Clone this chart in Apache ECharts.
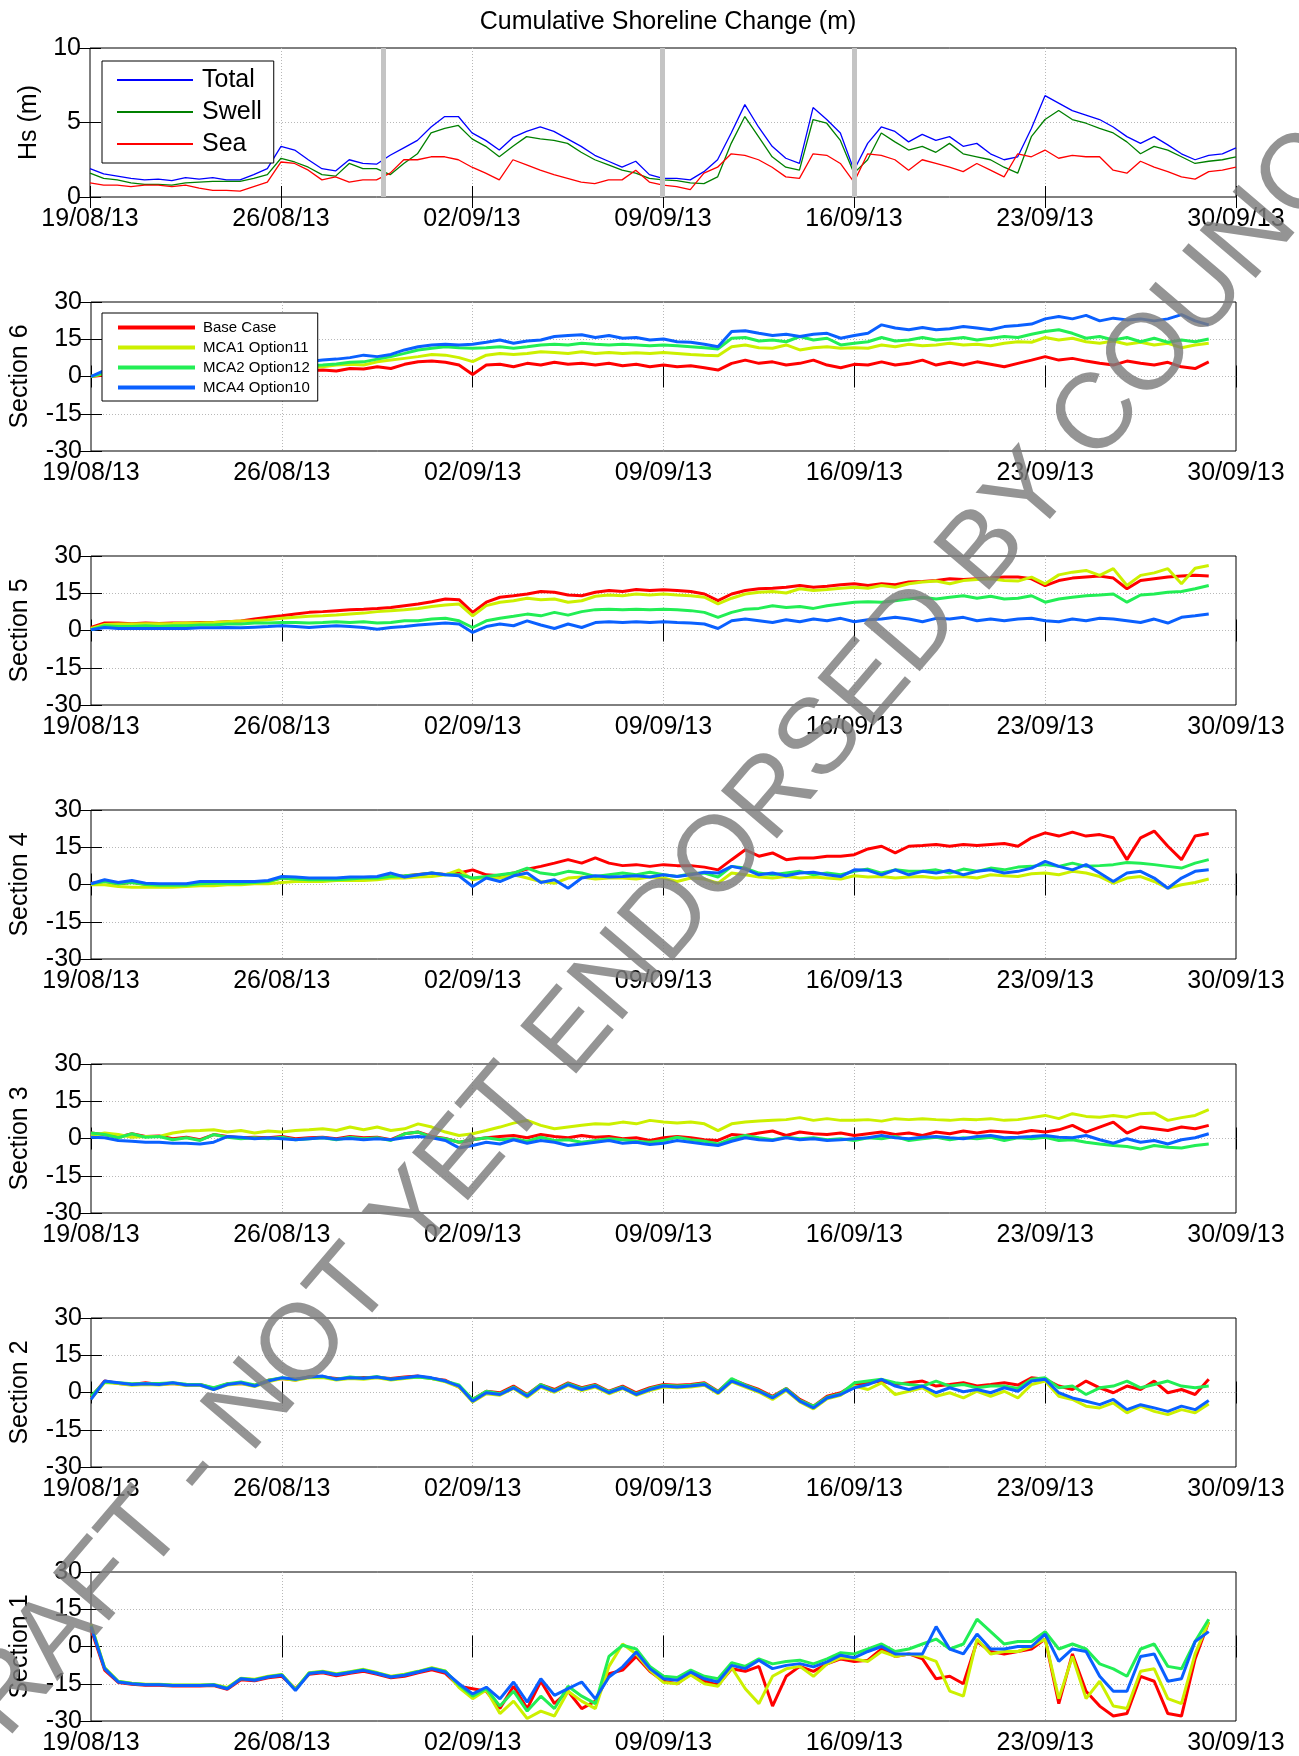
<!DOCTYPE html>
<html>
<head>
<meta charset="utf-8">
<script src="https://cdn.jsdelivr.net/npm/echarts@6/dist/echarts.min.js"></script>
<style>
  html, body { margin: 0; padding: 0; background: #fff; }
  #main { width: 1299px; height: 1756px; }
</style>
</head>
<body>
<div id="main"></div>
<script>
// samples every 12 h starting 19/08/2013 00:00 (x = days since start)
var stepDays = 0.5;
var stormDays = [10.75, 20.97, 28.0];

// wave height (m)
var hsTotal = [1.9,1.55,1.4,1.25,1.15,1.2,1.1,1.3,1.2,1.3,1.15,
  1.15,1.5,1.9,3.4,3.15,2.5,1.9,1.75,2.5,2.25,
  2.2,2.8,3.3,3.8,4.7,5.4,5.4,4.3,3.8,3.15,
  4.0,4.4,4.7,4.4,3.9,3.4,2.8,2.4,2.0,2.4,
  1.5,1.25,1.25,1.15,1.7,2.5,4.3,6.2,4.7,3.4,
  2.6,2.26,6.0,5.2,4.3,1.8,3.6,4.7,4.4,3.7,
  4.2,3.8,4.05,3.4,3.6,2.9,2.5,2.7,4.6,6.8,
  6.3,5.8,5.5,5.2,4.7,4.05,3.6,4.05,3.5,2.9,
  2.5,2.8,2.9,3.3];
var hsSwell = [1.6,1.25,1.15,0.95,0.85,0.85,0.8,0.95,1.0,1.05,1.05,
  1.05,1.25,1.5,2.6,2.35,2.0,1.5,1.4,2.25,1.9,
  1.9,1.5,2.25,2.9,4.3,4.6,4.8,3.9,3.4,2.7,
  3.4,4.05,3.9,3.8,3.6,3.0,2.5,2.15,1.8,1.6,
  1.25,1.15,1.1,0.95,0.9,1.35,3.6,5.4,4.05,2.7,
  2.0,1.8,5.2,4.95,3.8,1.6,2.5,4.3,3.7,3.15,
  3.4,3.0,3.6,2.9,2.7,2.5,2.0,1.6,4.05,5.2,
  5.8,5.2,4.95,4.6,4.3,3.7,2.9,3.4,3.15,2.7,
  2.25,2.4,2.5,2.7];
var hsSea = [0.95,0.8,0.8,0.7,0.8,0.8,0.7,0.8,0.6,0.45,0.45,
  0.4,0.7,1.0,2.35,2.25,1.8,1.15,1.35,1.0,1.15,
  1.15,1.6,2.5,2.5,2.7,2.7,2.5,2.0,1.6,1.15,
  2.5,2.15,1.8,1.5,1.25,1.0,0.9,1.15,1.15,1.8,
  1.0,0.8,0.7,0.5,1.6,2.0,2.9,2.8,2.5,2.0,
  1.35,1.25,2.9,2.8,2.25,1.0,2.9,2.8,2.5,1.8,
  2.5,2.25,2.0,1.7,2.25,1.8,1.35,2.9,2.7,3.15,
  2.6,2.8,2.7,2.7,1.8,1.6,2.4,2.0,1.7,1.35,
  1.2,1.7,1.8,2.0];

// cumulative shoreline change (m), Section 6
var s6Base = [0,0.6,1.0,1.2,0.9,1.3,1.5,1.3,1.7,1.9,1.8,
  2.1,1.9,2.3,2.2,2.5,2.4,2.6,2.2,3.2,3.0,
  3.9,3.2,4.9,5.9,6.2,5.7,4.6,0.8,4.6,4.9,
  3.9,5.3,4.6,5.7,4.9,5.3,4.6,5.3,4.3,4.9,
  3.9,4.6,3.9,4.3,3.5,2.6,5.3,6.6,5.3,5.9,
  4.6,5.3,6.6,4.6,3.5,4.9,4.6,5.9,4.6,5.3,
  6.6,4.6,5.7,4.6,5.9,4.9,3.9,5.3,6.6,8.0,
  6.6,7.3,6.2,5.3,4.6,6.2,5.3,4.6,5.7,3.9,
  3.2,5.9];
var s6Mca1 = [0,1.2,1.6,1.8,1.6,2.0,2.2,2.0,2.4,2.5,2.7,
  2.9,3.0,3.2,3.4,3.6,3.7,3.9,4.6,4.9,4.6,
  5.9,6.6,7.3,8.0,8.9,8.6,7.6,6.0,8.6,9.3,
  8.9,9.3,10.0,9.7,9.3,10.0,9.3,9.7,9.3,9.6,
  9.3,9.7,9.3,8.9,8.6,8.4,12.0,12.7,11.6,11.4,
  12.7,10.7,11.6,12.0,11.4,11.6,11.4,12.7,12.0,13.0,
  12.4,12.7,13.4,12.7,13.0,12.4,13.4,14.0,13.8,15.7,
  14.7,15.4,14.0,13.4,14.3,13.0,13.8,12.7,13.4,11.6,
  12.7,13.4];
var s6Mca2 = [0,1.5,2.0,2.2,2.0,2.4,2.6,2.5,2.8,3.0,3.2,
  3.4,3.6,3.8,4.0,4.3,4.4,4.6,5.0,5.7,5.9,
  7.0,8.0,9.3,10.7,11.4,12.0,11.6,11.4,11.6,12.0,
  11.4,12.0,12.7,13.0,12.7,13.4,13.0,12.7,13.0,12.7,
  12.4,12.7,12.4,12.0,11.6,11.1,15.4,15.7,14.3,14.7,
  14.0,16.1,14.7,15.4,12.7,13.4,14.0,15.7,14.3,14.7,
  15.7,14.7,15.1,15.7,14.7,15.4,16.1,15.7,17.0,18.1,
  18.8,17.4,15.4,16.1,14.7,15.7,14.0,15.4,13.8,14.7,
  14.0,15.1];
var s6Mca4 = [0,2.5,3.0,3.2,3.0,3.4,3.6,3.5,3.8,4.0,4.2,
  4.5,4.8,5.0,5.3,5.8,6.0,6.6,7.0,7.6,8.6,
  8.0,8.9,10.7,12.0,12.7,13.0,12.7,13.0,13.8,14.7,
  13.4,14.3,14.7,16.1,16.5,16.8,15.7,16.5,15.4,15.7,
  14.7,15.1,14.0,13.8,13.0,12.0,18.1,18.4,17.4,16.5,
  17.0,16.1,17.0,17.4,15.4,16.5,17.4,20.8,19.5,18.8,
  19.7,18.8,19.2,20.1,19.5,18.8,20.1,20.5,21.1,23.2,
  24.2,23.2,24.6,22.4,23.5,22.8,23.2,22.4,23.2,24.9,
  22.4,20.8];

// Section 5
var s5Base = [1.2,3.0,3.0,2.7,3.0,2.8,3.0,3.0,3.2,3.2,3.5,
  3.8,4.6,5.3,5.9,6.6,7.3,7.6,8.0,8.4,8.6,
  8.9,9.3,10.0,10.7,11.6,12.7,12.4,7.3,11.4,13.4,
  14.0,14.7,15.7,15.4,14.3,14.0,15.4,16.1,15.7,16.5,
  16.1,16.4,16.1,15.7,14.7,12.0,14.7,16.1,16.8,17.0,
  17.4,18.1,17.4,17.8,18.4,18.8,18.1,18.8,18.4,19.5,
  19.7,20.1,20.8,20.5,20.8,21.1,21.5,21.5,20.8,18.1,
  20.1,21.1,21.5,21.9,21.1,16.8,20.1,20.8,21.5,21.9,
  22.2,21.9];
var s5Mca1 = [0.8,2.4,2.6,2.6,2.7,2.7,2.8,3.0,3.0,3.2,3.5,
  3.8,3.9,4.3,4.9,5.3,5.7,5.9,6.2,6.6,7.0,
  7.6,8.0,8.4,8.9,9.7,10.3,10.7,5.9,10.0,11.4,
  12.0,13.0,12.4,12.7,11.4,12.0,13.8,14.3,14.0,14.7,
  14.3,14.7,14.3,14.0,13.4,10.7,13.0,14.7,15.4,15.7,
  15.1,16.8,16.1,16.5,17.0,17.4,17.0,18.1,17.4,18.8,
  19.5,19.9,18.8,20.1,20.5,20.8,20.1,19.9,21.5,18.8,
  22.4,23.5,24.2,22.2,24.9,18.1,22.2,23.2,24.9,18.8,
  25.1,26.2];
var s5Mca2 = [0.3,1.9,1.6,1.6,1.9,1.6,1.9,1.9,2.2,2.2,2.6,
  2.6,3.0,3.0,3.2,3.2,3.0,3.2,3.5,3.2,3.5,
  3.0,3.2,3.9,3.9,4.6,4.9,3.9,1.2,3.9,4.9,
  5.7,6.6,5.9,7.3,6.2,7.6,8.4,8.6,8.4,8.6,
  8.4,8.6,8.4,8.0,7.3,5.3,7.3,8.6,8.9,10.0,
  9.3,9.7,8.9,10.0,10.7,11.4,11.6,11.4,12.0,12.7,
  13.4,12.7,13.4,14.0,13.0,13.8,12.7,13.0,14.0,11.4,
  12.7,13.4,14.0,14.3,14.7,11.4,14.3,14.7,15.4,15.7,
  16.8,18.1];
var s5Mca4 = [0.3,1.2,0.8,0.8,0.8,0.8,0.8,0.8,1.1,1.1,1.2,
  1.1,1.35,1.6,1.9,1.6,1.2,1.6,1.9,1.6,1.2,
  0.5,1.2,1.6,2.2,2.6,3.0,2.6,-0.8,1.6,2.6,
  1.9,3.9,2.2,0.8,2.6,1.2,3.2,3.5,3.2,3.5,
  3.2,3.5,3.2,3.0,2.6,0.8,3.9,4.6,3.9,3.2,
  4.3,3.5,4.6,3.9,4.9,3.5,4.3,4.6,5.3,4.6,
  3.5,4.9,4.6,5.3,3.9,4.6,3.9,4.6,4.9,3.9,
  3.5,4.6,3.9,4.9,4.6,3.9,3.2,4.6,3.0,5.3,
  5.9,6.6];

// Section 4
var s4Base = [0.4,1.3,0.2,0.9,0.1,-0.2,-0.4,-0.2,0.4,0.6,0.4,
  0.6,0.9,1.3,2.7,2.1,2.0,1.8,2.0,2.3,2.5,
  2.7,3.3,3.4,4.0,4.5,4.0,4.6,5.9,3.9,3.5,
  4.6,6.2,7.3,8.6,10.0,8.6,10.7,8.6,7.6,8.0,
  7.3,8.0,7.6,7.6,7.0,5.9,10.0,14.0,11.4,12.7,
  10.0,10.7,10.7,11.4,11.4,12.0,14.3,15.4,12.7,15.4,
  15.7,16.1,15.4,16.1,15.7,16.1,16.5,15.4,18.8,20.8,
  19.5,21.1,19.5,20.1,18.8,10.0,18.8,21.5,15.4,10.0,
  19.5,20.5];
var s4Mca1 = [-0.1,-0.1,-0.8,-1.1,-1.1,-1.1,-1.1,-0.8,-0.5,-0.5,-0.1,
  -0.1,0.3,0.3,0.8,1.2,1.2,1.2,1.6,1.6,1.6,
  1.9,2.6,2.6,3.0,3.2,3.9,5.9,1.9,3.0,2.6,
  3.9,2.6,1.2,0.5,2.6,3.0,2.2,2.6,2.6,2.2,
  3.0,2.6,1.2,2.6,2.2,0.5,4.6,3.9,3.0,2.6,
  3.2,2.6,3.0,2.6,2.2,3.5,3.0,3.2,2.6,3.0,
  3.2,2.6,3.0,3.2,2.6,3.9,3.5,3.2,4.3,4.6,
  3.9,5.3,4.6,3.2,0.5,2.6,3.2,1.2,-1.5,-0.1,
  0.8,2.2];
var s4Mca2 = [0.3,1.2,0.3,0.8,0.0,-0.3,-0.3,-0.3,0.3,0.5,0.5,
  0.5,0.8,1.2,2.6,2.2,1.9,1.9,1.9,2.2,2.6,
  2.6,3.2,3.5,3.9,4.6,3.9,3.9,2.6,3.2,3.9,
  4.6,6.6,4.6,3.9,5.3,4.6,3.2,3.9,4.6,3.9,
  4.9,3.9,3.2,4.3,4.6,3.0,7.3,6.6,4.6,3.9,
  4.6,5.3,3.9,4.6,3.9,5.3,6.2,4.6,5.9,5.3,
  5.3,5.9,4.6,6.2,5.3,6.6,5.9,7.0,7.3,8.0,
  7.3,8.6,7.3,7.6,8.0,8.9,8.6,8.0,7.3,6.6,
  8.6,10.0];
var s4Mca4 = [0.3,1.9,0.8,1.6,0.5,0.3,0.3,0.3,1.2,1.2,1.2,
  1.2,1.2,1.6,3.2,3.0,2.6,2.6,2.6,3.0,3.0,
  3.2,4.6,3.0,3.9,4.6,3.9,3.5,-0.8,2.6,1.2,
  3.5,4.6,0.8,1.9,-1.5,2.6,3.5,3.0,3.2,3.5,
  3.0,3.9,3.2,3.9,4.9,4.6,7.3,6.2,3.9,4.6,
  3.5,4.6,4.9,3.9,3.2,5.9,5.7,3.9,5.9,3.9,
  5.3,4.6,5.7,3.9,5.3,5.9,4.6,5.3,6.6,9.3,
  7.3,5.9,8.0,4.6,1.2,4.6,5.3,2.6,-1.5,2.6,
  5.3,5.9];

// Section 3
var s3Base = [2.2,1.6,0.5,1.9,0.8,1.0,-0.1,0.5,-0.5,1.6,0.8,
  0.3,0.5,0.3,0.8,-0.1,0.3,0.5,-0.1,0.8,0.3,
  0.5,-0.5,1.9,2.6,0.8,0.0,-1.5,-0.5,0.3,0.8,
  1.2,0.3,1.6,0.8,0.3,1.2,0.5,0.8,-0.1,0.3,
  -0.8,0.3,0.8,0.3,-0.5,-0.8,1.6,1.2,2.2,3.0,
  1.2,2.6,1.9,1.6,2.2,1.2,1.9,2.6,1.6,2.2,
  1.2,2.6,1.9,3.0,2.2,3.0,2.6,2.2,3.2,2.6,
  3.5,5.3,2.6,4.6,6.6,2.2,4.6,3.9,3.2,4.6,
  3.9,5.3];
var s3Mca1 = [1.2,2.2,1.6,0.5,0.8,0.8,2.2,3.0,3.2,3.5,2.6,
  3.2,2.2,3.0,2.6,3.2,3.5,3.9,3.2,4.6,3.5,
  4.6,3.2,3.9,5.9,4.6,2.6,1.2,1.9,3.2,4.6,
  6.2,7.3,5.3,3.9,4.6,5.3,5.9,5.7,6.6,5.9,
  7.3,6.6,6.2,6.6,5.9,3.2,5.9,6.6,7.0,7.3,
  7.6,8.4,7.3,8.0,7.3,7.3,7.6,7.0,8.0,7.6,
  8.0,7.6,7.3,7.8,7.6,8.0,7.3,7.6,8.4,9.3,
  8.0,10.0,8.9,8.6,9.3,8.6,10.0,10.3,7.3,8.4,
  9.3,11.6];
var s3Mca2 = [2.2,1.6,0.3,1.9,0.5,0.8,-0.5,0.3,-0.8,1.6,0.5,
  -0.1,0.3,-0.1,0.5,-0.5,-0.1,0.3,-0.5,0.5,-0.1,
  0.3,-0.8,1.9,2.6,0.5,-0.1,-1.5,-0.5,0.3,-0.5,
  -0.1,-1.1,0.5,-0.8,-0.5,-1.5,-0.8,-0.1,-0.5,-1.1,
  -1.5,-0.8,0.5,-0.5,-1.1,-2.2,-0.1,1.2,0.3,-0.5,
  0.5,-0.1,0.3,-0.5,-0.1,-0.8,0.3,-0.1,0.8,-0.8,
  -0.1,0.5,-0.5,0.3,-0.1,0.5,-0.8,0.3,-0.1,0.5,
  -0.8,-0.5,-1.5,-2.2,-2.8,-3.2,-4.2,-2.8,-3.5,-3.8,
  -2.8,-2.2];
var s3Mca4 = [0.5,0.3,-0.8,-1.1,-1.5,-1.5,-1.9,-1.9,-2.2,-1.5,0.8,
  0.5,-0.1,0.3,-0.1,-0.5,-0.1,0.3,-0.3,0.0,-0.5,
  -0.1,-0.5,0.3,0.8,0.3,-0.8,-3.8,-2.8,-1.5,-2.2,
  -0.5,-1.9,-0.8,-1.5,-2.8,-2.2,-1.5,-0.8,-1.9,-1.5,
  -2.4,-1.9,-0.8,-1.5,-2.2,-2.8,-1.1,0.3,-0.5,-0.8,
  0.3,-0.5,-0.1,-0.8,-0.5,-0.1,0.3,1.2,0.3,-0.1,
  0.5,0.8,0.3,-0.1,0.8,1.2,0.3,0.5,0.8,1.2,
  0.5,0.3,1.2,-0.5,-1.9,-0.1,-1.5,-0.8,-2.2,-0.5,
  0.3,1.9];

// Section 2
var s2Base = [-2.0,4.6,3.6,3.2,3.9,3.2,3.6,3.0,3.2,1.6,3.5,
  3.6,2.9,4.9,5.6,5.0,6.4,6.2,5.6,5.6,6.0,
  6.0,5.6,6.2,6.6,5.6,4.9,2.2,-2.8,0.5,-0.1,
  2.6,-0.8,3.2,1.2,3.9,1.9,3.2,0.5,2.6,-0.1,
  1.9,3.2,2.9,3.2,3.9,0.5,5.3,3.2,1.2,-1.5,
  1.6,-2.8,-5.5,-1.5,-0.1,3.2,3.9,4.6,3.2,3.9,
  4.6,2.6,3.2,3.9,2.6,3.2,3.9,3.0,5.9,5.3,
  2.6,1.2,4.6,1.9,-0.1,2.6,1.2,4.6,-0.1,1.2,
  -0.8,5.3];
var s2Mca1 = [-2.5,4.0,3.6,2.9,3.2,3.0,3.6,2.8,2.9,1.2,3.0,
  3.6,2.4,4.3,5.6,4.9,5.9,6.0,5.0,5.6,5.3,
  5.9,5.0,5.6,6.2,5.6,4.3,2.2,-3.8,-0.5,-1.1,
  1.6,-1.9,2.2,0.1,2.9,0.8,2.2,-0.5,1.6,-1.1,
  0.8,2.2,1.9,2.2,2.9,-0.5,4.3,2.2,0.1,-2.8,
  0.8,-3.8,-6.6,-2.5,-1.1,2.6,1.2,3.9,-0.8,0.5,
  1.9,-1.5,-0.1,-2.2,0.5,-1.5,0.5,-2.2,3.2,4.6,
  -1.5,-2.8,-5.5,-6.2,-4.2,-8.2,-5.5,-7.6,-8.9,-6.9,
  -8.2,-4.6];
var s2Mca2 = [-1.5,4.2,3.9,3.5,3.6,3.6,3.9,3.3,3.2,1.9,3.5,
  4.2,3.0,4.9,5.9,5.3,6.2,6.4,5.3,6.2,5.7,
  6.4,5.3,5.9,6.2,5.6,4.6,3.0,-2.8,0.5,-0.5,
  2.2,-1.1,3.2,0.8,3.6,1.6,2.9,0.3,2.2,-0.5,
  1.6,2.9,2.6,2.9,3.6,0.3,5.6,3.0,0.8,-1.9,
  1.6,-3.2,-5.5,-1.9,-0.5,3.9,4.6,5.3,3.9,3.2,
  2.6,4.6,2.6,3.2,1.9,2.6,2.6,1.6,5.3,5.9,
  1.9,2.6,-0.8,1.9,2.6,4.6,1.9,3.2,4.6,2.6,
  1.9,2.6];
var s2Mca4 = [-2.8,4.6,3.9,3.2,3.5,3.2,3.9,3.0,3.0,1.2,3.2,
  3.9,2.6,4.6,5.9,5.3,6.2,6.6,5.3,5.9,5.7,
  6.2,5.3,5.9,6.6,5.9,4.6,2.6,-3.5,-0.1,-0.8,
  1.9,-1.5,2.6,0.5,3.2,1.2,2.6,-0.1,1.9,-0.8,
  1.2,2.6,2.2,2.6,3.2,-0.1,4.6,2.6,0.5,-2.2,
  1.2,-3.5,-6.2,-2.2,-0.8,1.9,3.2,5.3,2.6,1.2,
  2.6,-0.1,1.9,0.3,1.2,-0.1,1.9,0.5,4.6,5.3,
  -0.1,-2.2,-3.5,-4.9,-2.8,-6.9,-4.9,-6.2,-7.6,-5.5,
  -6.9,-3.2];

// Section 1
var s1Base = [7.0,-9.5,-14.5,-15.2,-15.6,-15.6,-15.9,-15.9,-15.9,-15.7,-17.2,
  -13.4,-13.8,-12.6,-12.0,-17.0,-11.2,-10.6,-11.8,-10.8,-10.0,
  -11.2,-12.6,-12.0,-10.6,-9.4,-10.8,-16.0,-17.0,-18.0,-25.0,
  -16.0,-25.0,-14.0,-23.0,-18.0,-25.0,-22.0,-11.0,-9.5,-4.0,
  -10.0,-14.0,-15.0,-11.0,-14.0,-15.5,-9.0,-10.0,-8.0,-24.0,
  -12.0,-8.0,-10.0,-7.0,-5.0,-6.0,-5.5,-1.0,-4.0,-3.0,
  -5.0,-13.0,-12.0,-15.0,2.0,-2.0,-3.0,-2.0,-1.0,3.0,
  -23.0,-3.0,-18.0,-24.0,-28.0,-27.0,-12.0,-14.0,-27.0,-28.0,
  -5.0,10.0];
var s1Mca1 = [9.0,-8.5,-14.0,-14.8,-15.2,-15.2,-15.5,-15.5,-15.5,-15.3,-16.5,
  -12.8,-13.2,-12.0,-11.3,-17.2,-10.6,-10.0,-11.0,-10.2,-9.2,
  -10.5,-12.0,-11.2,-10.0,-8.5,-9.8,-16.5,-21.0,-17.5,-27.0,
  -22.0,-29.0,-26.0,-28.0,-18.0,-22.0,-25.0,-8.0,1.0,-3.0,
  -9.5,-14.5,-15.0,-11.5,-15.0,-16.0,-8.5,-17.0,-23.0,-12.0,
  -9.0,-8.0,-12.0,-7.0,-4.5,-5.0,-6.0,-2.0,-4.0,-3.0,
  -4.0,-6.0,-18.0,-20.0,3.0,-3.0,-2.0,-2.0,0.0,3.0,
  -21.0,-4.0,-21.0,-14.0,-24.0,-25.0,-10.0,-9.0,-21.0,-23.0,
  -3.0,10.0];
var s1Mca2 = [8.5,-8.7,-14.1,-14.9,-15.3,-15.3,-15.6,-15.6,-15.6,-15.4,-16.8,
  -12.9,-13.4,-12.2,-11.4,-17.4,-10.7,-10.2,-11.2,-10.3,-9.4,
  -10.7,-12.2,-11.4,-10.1,-8.7,-10.0,-15.5,-20.0,-17.0,-24.0,
  -18.0,-26.0,-20.0,-25.0,-16.0,-20.0,-23.0,-4.0,0.5,-1.0,
  -8.0,-12.0,-12.5,-9.5,-12.0,-13.0,-6.5,-8.0,-5.0,-7.0,
  -6.0,-5.5,-7.0,-5.0,-2.5,-3.0,-1.0,1.0,-2.0,-1.0,
  1.0,3.0,-1.0,1.0,11.0,6.0,1.0,2.0,2.0,6.0,
  -1.0,1.0,-1.0,-7.0,-9.0,-12.0,-1.0,1.0,-8.0,-9.0,
  2.0,11.0];
var s1Mca4 = [8.0,-8.9,-14.3,-15.0,-15.4,-15.4,-15.7,-15.7,-15.7,-15.5,-17.0,
  -13.0,-13.6,-12.3,-11.6,-17.7,-10.9,-10.3,-11.4,-10.5,-9.6,
  -10.9,-12.3,-11.6,-10.3,-8.9,-10.3,-15.0,-19.1,-16.4,-21.1,
  -14.3,-22.4,-13.0,-19.7,-17.0,-14.3,-21.1,-12.3,-8.2,-2.2,
  -8.9,-13.0,-13.6,-10.3,-13.0,-14.3,-7.6,-8.9,-5.5,-8.9,
  -7.6,-6.9,-8.2,-6.2,-3.5,-4.5,-2.0,0.0,-3.0,-3.0,
  -3.0,8.0,-1.0,-3.0,5.0,-1.0,-1.0,0.0,0.0,5.0,
  -6.0,-1.0,-2.0,-12.0,-18.0,-18.0,-4.0,-3.0,-14.0,-13.0,
  2.0,6.0];

var hsNames = ['Total', 'Swell', 'Sea'];
var hsColors = ['#0000ff', '#008000', '#ff0000'];
var scenarioNames = ['Base Case', 'MCA1 Option11', 'MCA2 Option12', 'MCA4 Option10'];
var scenarioColors = ['#ff0000', '#ccf000', '#22ee55', '#0a60ff'];
var panelNames = ['Hs (m)', 'Section 6', 'Section 5', 'Section 4', 'Section 3', 'Section 2', 'Section 1'];
var sectionData = [
  [s6Base, s6Mca1, s6Mca2, s6Mca4],
  [s5Base, s5Mca1, s5Mca2, s5Mca4],
  [s4Base, s4Mca1, s4Mca2, s4Mca4],
  [s3Base, s3Mca1, s3Mca2, s3Mca4],
  [s2Base, s2Mca1, s2Mca2, s2Mca4],
  [s1Base, s1Mca1, s1Mca2, s1Mca4]
];

var FONT = '"Liberation Sans", Arial, Helvetica, sans-serif';

function dayLabel(v) {
  var d = new Date(2013, 7, 19 + Math.round(v));
  var dd = ('0' + d.getDate()).slice(-2);
  var mm = ('0' + (d.getMonth() + 1)).slice(-2);
  return dd + '/' + mm + '/' + String(d.getFullYear()).slice(-2);
}

function toPairs(arr) {
  return arr.map(function (v, i) { return [i * stepDays, v]; });
}

var chart = echarts.init(document.getElementById('main'));

var grids = [], xAxes = [], yAxes = [], series = [];
var tick = { show: true, inside: true, length: 11, lineStyle: { color: '#000', width: 1 } };
var grid = { show: true, lineStyle: { color: '#b8b8b8', type: [1, 2], width: 1 }, showMinLine: false, showMaxLine: false };

for (var k = 0; k < 7; k++) {
  var yMin = k === 0 ? 0 : -30, yMax = k === 0 ? 10 : 30, yInt = k === 0 ? 5 : 15;
  grids.push({ left: 90, width: 1146, top: 48 + 254 * k, height: 149,
    show: true, borderColor: '#000', borderWidth: 1, backgroundColor: 'transparent' });
  xAxes.push({ gridIndex: k, type: 'value', min: 0, max: 42, interval: 7, position: 'bottom',
    axisLine: { show: false }, axisTick: tick, splitLine: grid,
    axisLabel: { fontSize: 25, color: '#000', margin: 10, fontFamily: FONT, formatter: dayLabel } });
  xAxes.push({ gridIndex: k, type: 'value', min: 0, max: 42, interval: 7, position: 'top',
    axisLine: { show: false }, axisTick: tick, splitLine: { show: false }, axisLabel: { show: false } });
  yAxes.push({ gridIndex: k, type: 'value', min: yMin, max: yMax, interval: yInt, position: 'left',
    name: panelNames[k], nameLocation: 'middle', nameGap: k === 0 ? 48 : 58,
    nameTextStyle: { fontSize: 25, color: '#000', fontFamily: FONT },
    axisLine: { show: false }, axisTick: tick, splitLine: grid,
    axisLabel: { fontSize: 25, color: '#000', margin: 9, fontFamily: FONT } });
  yAxes.push({ gridIndex: k, type: 'value', min: yMin, max: yMax, interval: yInt, position: 'right',
    axisLine: { show: false }, axisTick: tick, splitLine: { show: false }, axisLabel: { show: false } });
}

// grey vertical markers in the wave panel
series.push({ type: 'line', xAxisIndex: 0, yAxisIndex: 0, data: [], z: 1, silent: true,
  markLine: { silent: true, symbol: 'none', label: { show: false },
    lineStyle: { color: '#c4c4c4', width: 5, type: 'solid' },
    data: stormDays.map(function (d) { return { xAxis: d }; }) } });

[hsTotal, hsSwell, hsSea].forEach(function (arr, j) {
  series.push({ name: hsNames[j], type: 'line', xAxisIndex: 0, yAxisIndex: 0,
    data: toPairs(arr), showSymbol: false, symbol: 'none', z: 2,
    lineStyle: { width: 1.3, color: hsColors[j] }, itemStyle: { color: hsColors[j] } });
});

sectionData.forEach(function (group, s) {
  var k = s + 1;
  group.forEach(function (arr, j) {
    series.push({ name: scenarioNames[j], type: 'line', xAxisIndex: 2 * k, yAxisIndex: 2 * k,
      data: toPairs(arr), showSymbol: false, symbol: 'none', z: 2,
      lineStyle: { width: 3, color: scenarioColors[j] }, itemStyle: { color: scenarioColors[j] } });
  });
});

var option = {
  animation: false,
  backgroundColor: '#fff',
  textStyle: { fontFamily: FONT },
  title: { text: 'Cumulative Shoreline Change (m)', left: 663, top: 5, textAlign: 'center',
    textStyle: { fontSize: 25, fontWeight: 'normal', color: '#000', fontFamily: FONT } },
  legend: [
    { data: hsNames, orient: 'vertical', left: 102, top: 61, icon: 'rect',
      itemWidth: 76, itemHeight: 2, itemGap: 6, padding: [6, 12, 6, 15],
      backgroundColor: '#fff', borderColor: '#000', borderWidth: 1, borderRadius: 0,
      selectedMode: false,
      textStyle: { fontSize: 25, color: '#000', lineHeight: 26, padding: [0, 0, 0, 4], fontFamily: FONT } },
    { data: scenarioNames, orient: 'vertical', left: 102, top: 313, icon: 'rect',
      itemWidth: 77, itemHeight: 4, itemGap: 5, padding: [7, 8, 6, 16],
      backgroundColor: '#fff', borderColor: '#000', borderWidth: 1, borderRadius: 0,
      selectedMode: false,
      textStyle: { fontSize: 15, color: '#000', lineHeight: 15, padding: [0, 0, 0, 3], fontFamily: FONT } }
  ],
  grid: grids,
  xAxis: xAxes,
  yAxis: yAxes,
  series: series,
  graphic: [
    { type: 'text', x: 660, y: 930, rotation: 49.5 * Math.PI / 180, z: 100, silent: true,
      style: { text: 'DRAFT - NOT YET ENDORSED BY COUNCIL', fontSize: 107, fontFamily: FONT,
        fill: 'rgba(125,125,125,0.82)', align: 'center', verticalAlign: 'middle' } }
  ]
};

chart.setOption(option);
</script>
</body>
</html>
